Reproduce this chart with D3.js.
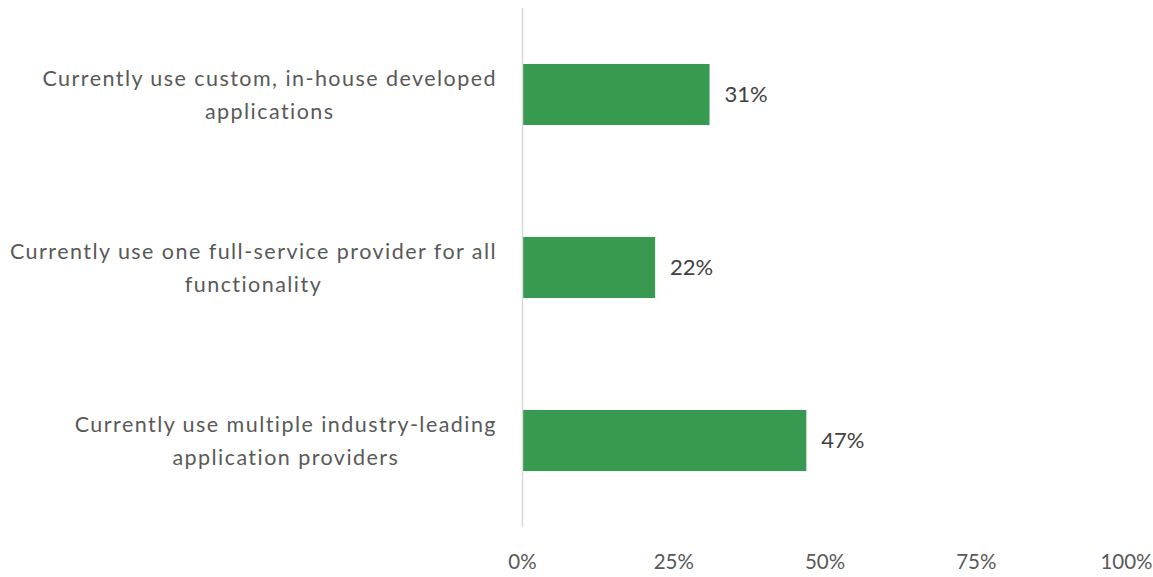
<!DOCTYPE html>
<html>
<head>
<meta charset="utf-8">
<script src="https://cdn.jsdelivr.net/npm/d3@7"></script>
<style>
  html, body { margin: 0; padding: 0; background: #fff; }
  svg { display: block; }
  text { font-family: Lato, "Open Sans", sans-serif; }
</style>
</head>
<body>
<svg id="chart" width="1153" height="577"></svg>
<script>
const categories = [
  ["Currently use custom, in-house developed", "applications"],
  ["Currently use one full-service provider for all", "functionality"],
  ["Currently use multiple industry-leading", "application providers"]
];
const values = [31, 22, 47];
const tickValues = [0, 25, 50, 75, 100];
const tickLabels = ["0%", "25%", "50%", "75%", "100%"];

const svg = d3.select("#chart");
const W = 1153;
const plot = { left: 522, right: 1127, top: 8, bottom: 527 };

const x = d3.scaleLinear().domain([0, 100]).range([plot.left, plot.right]);
const y = d3.scaleBand()
  .domain(d3.range(categories.length))
  .range([plot.top, plot.bottom])
  .paddingInner(0.647)
  .paddingOuter(0.3235);

const fontSize = 21.5;
const numSize = 22;
const tickSize = 20.5;

// bars
svg.append("g").selectAll("rect")
  .data(values)
  .join("rect")
  .attr("x", x(0))
  .attr("y", (d, i) => y(i))
  .attr("width", d => x(d) - x(0))
  .attr("height", y.bandwidth())
  .attr("fill", "#389950");

// vertical axis line
svg.append("line")
  .attr("x1", x(0) + 0.5).attr("x2", x(0) + 0.5)
  .attr("y1", plot.top).attr("y2", plot.bottom)
  .attr("stroke", "#d9d9d9").attr("stroke-width", 1.5);

// value labels
svg.append("g").selectAll("text")
  .data(values)
  .join("text")
  .attr("x", d => x(d) + 15)
  .attr("y", (d, i) => y(i) + y.bandwidth() / 2)
  .attr("dy", "0.35em")
  .attr("font-size", numSize)
  .attr("fill", "#404040")
  .text(d => d + "%");

// x axis tick labels
const xAxis = d3.axisBottom(x)
  .tickValues(tickValues)
  .tickFormat((d, i) => tickLabels[i])
  .tickSize(0)
  .tickPadding(0);
const gx = svg.append("g")
  .attr("transform", `translate(0, 552)`)
  .call(xAxis);
gx.select(".domain").remove();
gx.selectAll("text")
  .attr("font-size", tickSize)
  .attr("font-family", "Lato, 'Open Sans', sans-serif")
  .attr("fill", "#595959")
  .attr("dy", "0.35em")
  .attr("y", 10)
  .each(function(d) {
    // keep the last label inside the picture
    const w = this.getComputedTextLength();
    const over = x(d) + w / 2 - (W - 1);
    if (over > 0) d3.select(this).attr("x", -over);
  });

// category labels: block right-aligned to axis, lines centered in block
const lineH = 33;
const blockRight = 497;
const catG = svg.append("g");
categories.forEach((lines, i) => {
  const cy = y(i) + y.bandwidth() / 2;
  const g = catG.append("g");
  const texts = lines.map((ln, j) => g.append("text")
    .attr("font-size", fontSize)
    .attr("letter-spacing", 1.45)
    .attr("fill", "#595959")
    .attr("text-anchor", "middle")
    .attr("y", cy + (j - (lines.length - 1) / 2) * lineH)
    .attr("dy", "0.35em")
    .text(ln));
  const maxW = d3.max(texts, t => t.node().getComputedTextLength());
  texts.forEach(t => t.attr("x", blockRight - maxW / 2));
});
</script>
</body>
</html>
